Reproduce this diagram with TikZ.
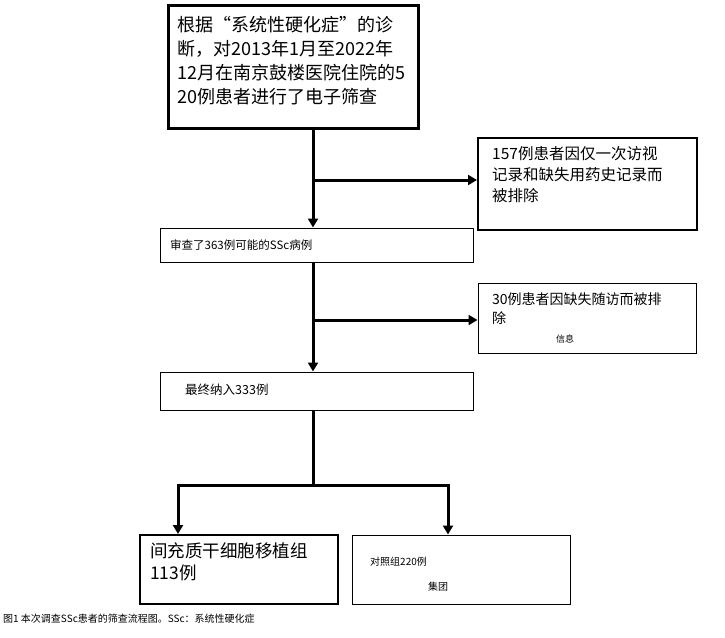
\documentclass[tikz,border=0pt]{standalone}
\usepackage{fontspec}
\newfontfamily\cjk{Noto Sans CJK SC}
\usetikzlibrary{arrows.meta,positioning}
\tikzset{
  box/.style={draw, line width=#1, inner sep=0pt},
  box/.default=1pt,
  txt/.style={anchor=north west, align=left, inner sep=0pt, font=\cjk},
  flow/.style={line width=3pt, -{Triangle[length=9pt,width=10pt]}},
  plain/.style={line width=3pt}
}
\begin{document}
\begin{tikzpicture}[x=1pt,y=-1pt]
\useasboundingbox (0,0) rectangle (725,637);

%%%%%%%%%%%%%------------- boxes
\node[box=3pt, minimum width=250pt, minimum height=123pt] (b1) at (293,66.5) {};
\node[box=2pt, minimum width=219pt, minimum height=92pt] (b2) at (587.5,184) {};
\node[box, minimum width=313pt, minimum height=34pt] (b3) at (316.5,245) {};
\node[box, minimum width=218pt, minimum height=70pt] (b4) at (587,318) {};
\node[box, minimum width=313pt, minimum height=38pt] (b5) at (316.5,391) {};
\node[box=2pt, minimum width=198pt, minimum height=69pt] (b6) at (239,569.5) {};
\node[box, minimum width=218pt, minimum height=69pt] (b7) at (461,569.5) {};

%%%%%%%%%%%%%------------- texts
\node[txt, font=\cjk\fontsize{18}{24}\selectfont] (t1) at (177,16)
  {根据“系统性硬化症”的诊\\断，对2013年1月至2022年\\12月在南京鼓楼医院住院的5\\20例患者进行了电子筛查};
\node[txt, font=\cjk\fontsize{15.5}{21}\selectfont] (t2) at (492,146)
  {157例患者因仅一次访视\\记录和缺失用药史记录而\\被排除};
\node[txt, font=\cjk\fontsize{11.5}{14}\selectfont] (t3) at (170,240) {审查了363例可能的SSc病例};
\node[txt, font=\cjk\fontsize{14}{19}\selectfont] (t4) at (492,293)
  {30例患者因缺失随访而被排\\除};
\node[txt, font=\cjk\fontsize{9}{11}\selectfont] (t4b) at (556,335) {信息};
\node[txt, font=\cjk\fontsize{12.5}{15}\selectfont] (t5) at (185,384) {最终纳入333例};
\node[txt, font=\cjk\fontsize{17.5}{22}\selectfont] (t6) at (150,543)
  {间充质干细胞移植组\\113例};
\node[txt, font=\cjk\fontsize{10}{12}\selectfont] (t7) at (370,557) {对照组220例};
\node[txt, font=\cjk\fontsize{10}{12}\selectfont] (t7b) at (428,582) {集团};
\node[txt, font=\cjk\fontsize{10}{12}\selectfont] (cap) at (3,614)
  {图1 本次调查SSc患者的筛查流程图。SSc：系统性硬化症};

%%%%%%%%%%%%%------------- connectors
\coordinate (top1) at (b1.south -| 313,0);
\coordinate (j1) at (313,180);
\coordinate (top3) at (313,262);
\coordinate (j2) at (313,320);
\coordinate (j3) at (313,485);
\coordinate (l3) at (178,485);
\coordinate (r3) at (448,485);

\draw[flow] (top1) -- (top1 |- b3.north);
\draw[flow] (j1) -- (j1 -| b2.west);
\draw[flow] (top3) -- (top3 |- b5.north);
\draw[flow] (j2) -- (j2 -| b4.west);
\draw[plain] (b5.south -| j3) -- (j3);
\draw[plain, line cap=rect] (l3) -- (r3);
\draw[flow] (l3) -- (l3 |- b6.north);
\draw[flow] (r3) -- (r3 |- b7.north);

\end{tikzpicture}
\end{document}
